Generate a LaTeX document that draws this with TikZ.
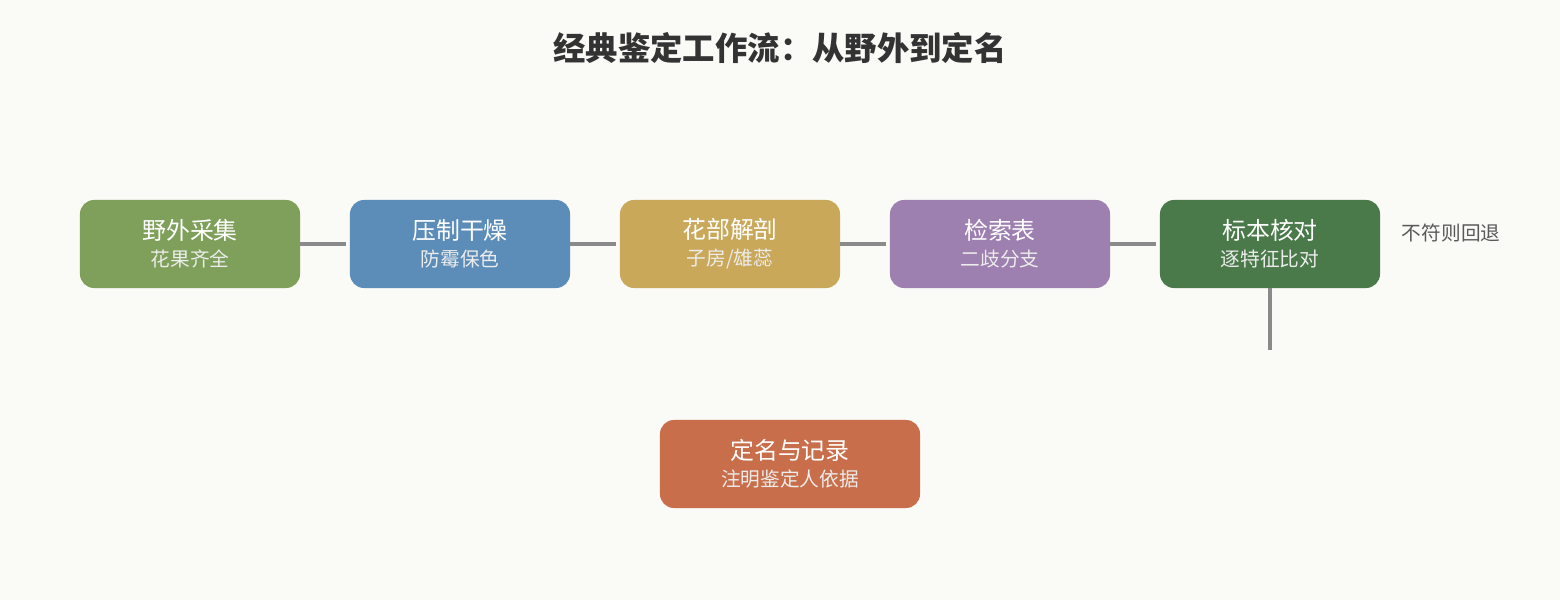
\documentclass[tikz,border=0pt]{standalone}
\usepackage{fontspec}
\setmainfont{Noto Sans CJK SC}
\usetikzlibrary{positioning}
\definecolor{bgcol}{HTML}{FAFAF6}
\definecolor{linkcol}{HTML}{8A8A8A}
\definecolor{fieldcol}{HTML}{7FA05A}
\definecolor{presscol}{HTML}{5B8DB8}
\definecolor{dissectcol}{HTML}{C9A85A}
\definecolor{keycol}{HTML}{9D7FB0}
\definecolor{checkcol}{HTML}{4A7A4A}
\definecolor{namecol}{HTML}{C96E4A}
\tikzset{
  stage/.style={rounded corners=0.35cm, minimum width=5.5cm, minimum height=2.2cm,
    align=center, text=white, inner sep=0pt, font=\fontsize{17}{21}\selectfont},
  link/.style={draw=linkcol, line width=2.8pt, shorten >=0.1cm},
}
\newcommand{\sub}[1]{\\[-2pt]{\fontsize{14}{17}\selectfont\color{white!85!gray}#1}}
\begin{document}
\begin{tikzpicture}[x=0.025cm, y=-0.025cm]
  \useasboundingbox[fill=bgcol] (0,0) rectangle (1560,600);
  % Titulo
  \node[font=\bfseries\fontsize{23}{27}\selectfont, text=black!80] (title) at (780,48) {经典鉴定工作流：从野外到定名};

  % Etapas
  \node[stage, fill=fieldcol] (field) at (190,244) {野外采集\sub{花果齐全}};
  \node[stage, fill=presscol] (press) at (460,244) {压制干燥\sub{防霉保色}};
  \node[stage, fill=dissectcol] (dissect) at (730,244) {花部解剖\sub{子房/雄蕊}};
  \node[stage, fill=keycol] (key) at (1000,244) {检索表\sub{二歧分支}};
  \node[stage, fill=checkcol] (check) at (1270,244) {标本核对\sub{逐特征比对}};
  \node[stage, fill=namecol, minimum width=6.5cm] (naming) at (790,464) {定名与记录\sub{注明鉴定人依据}};

  % Ligacoes
  \draw[link] (field) -- (press);
  \draw[link] (press) -- (dissect);
  \draw[link] (dissect) -- (key);
  \draw[link] (key) -- (check);
  \coordinate (down) at (1270,350);
  \draw[link, shorten >=0pt] (check) -- (down);

  \node[anchor=west, text=black!65, font=\fontsize{14}{17}\selectfont] (back) at (1397,233) {不符则回退};
\end{tikzpicture}
\end{document}
